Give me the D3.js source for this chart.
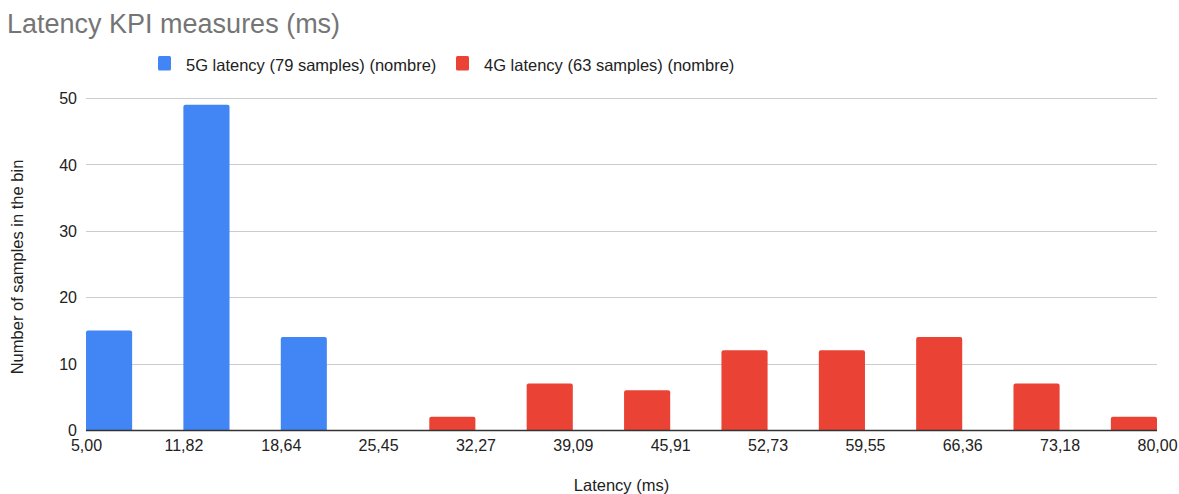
<!DOCTYPE html>
<html>
<head>
<meta charset="utf-8">
<script src="https://cdn.jsdelivr.net/npm/d3@7/dist/d3.min.js"></script>
<style>
  html, body { margin: 0; padding: 0; background: #fff; }
  svg { display: block; font-family: "Liberation Sans", Arial, sans-serif; }
</style>
</head>
<body>
<svg id="chart" width="1179" height="494"></svg>
<script>
// Bin edges of the latency histogram (ms) and their axis labels
const binEdges = [5.00, 11.82, 18.64, 25.45, 32.27, 39.09, 45.91, 52.73, 59.55, 66.36, 73.18, 80.00];
const binLabels = ["5,00", "11,82", "18,64", "25,45", "32,27", "39,09", "45,91", "52,73", "59,55", "66,36", "73,18", "80,00"];

// Sample counts per bin
const series = ["5G latency (79 samples) (nombre)", "4G latency (63 samples) (nombre)"];
const counts5G = [15, 49, 14, 0, 0, 0, 0, 0, 0, 0, 0];
const counts4G = [0, 0, 0, 2, 7, 6, 12, 12, 14, 7, 2];
const colors = ["#4285f4", "#ea4335"];
const yTicks = [0, 10, 20, 30, 40, 50];

const FONT = "'Liberation Sans', Arial, sans-serif";
const svg = d3.select("#chart");
const margin = { left: 86, right: 22, top: 98, bottom: 64 };
const W = 1179, H = 494;

const x = d3.scaleLinear()
  .domain([binEdges[0], binEdges[binEdges.length - 1]])
  .range([margin.left, W - margin.right]);
const y = d3.scaleLinear().domain([0, 50]).range([H - margin.bottom, margin.top]);

// Title
svg.append("text")
  .attr("x", 7).attr("y", 33)
  .attr("font-size", 27).attr("fill", "#757575")
  .text("Latency KPI measures (ms)");

// Legend
const legendX = [158, 456];
series.forEach((name, i) => {
  const g = svg.append("g").attr("transform", `translate(${legendX[i]},56)`);
  g.append("rect").attr("width", 13).attr("height", 14.5).attr("rx", 1.5).attr("fill", colors[i]);
  g.append("text").attr("x", 28).attr("y", 14.5).attr("font-size", 16.5).attr("fill", "#222").text(name);
});

// Gridlines
svg.append("g")
  .selectAll("line")
  .data(yTicks.filter(d => d > 0))
  .join("line")
  .attr("x1", x.range()[0]).attr("x2", x.range()[1])
  .attr("y1", d => Math.round(y(d)) + 0.5).attr("y2", d => Math.round(y(d)) + 0.5)
  .attr("stroke", "#cccccc").attr("stroke-width", 1);

// Y axis labels
const yAxis = d3.axisLeft(y).tickValues(yTicks).tickSize(0).tickPadding(0).tickFormat(d3.format("d"));
svg.append("g")
  .attr("transform", `translate(77,0)`)
  .call(yAxis)
  .call(g => g.select(".domain").remove())
  .call(g => g.selectAll("text").attr("font-size", 16).attr("fill", "#222").attr("font-family", FONT).attr("dy", "0.36em"));

// Bars: each bin holds the two series side by side
const inner = d3.scaleBand().domain([0, 1]).paddingInner(0.1).paddingOuter(0);
const bars = [];
for (let b = 0; b < binEdges.length - 1; b++) {
  [counts5G[b], counts4G[b]].forEach((v, s) => {
    if (v > 0) bars.push({ bin: b, s, v });
  });
}
function roundTop(x0, y0, w, h, r) {
  r = Math.min(r, h, w / 2);
  return `M${x0},${y0 + h}V${y0 + r}Q${x0},${y0} ${x0 + r},${y0}H${x0 + w - r}Q${x0 + w},${y0} ${x0 + w},${y0 + r}V${y0 + h}Z`;
}
svg.append("g")
  .selectAll("path")
  .data(bars)
  .join("path")
  .attr("fill", d => colors[d.s])
  .attr("d", d => {
    const a = x(binEdges[d.bin]), b = x(binEdges[d.bin + 1]);
    inner.range([a, b]);
    const bx = inner(d.s), bw = inner.bandwidth();
    return roundTop(bx, y(d.v), bw, y(0) - y(d.v), 2);
  });

// Baseline
svg.append("line")
  .attr("x1", x.range()[0]).attr("x2", x.range()[1])
  .attr("y1", y(0) + 0.5).attr("y2", y(0) + 0.5)
  .attr("stroke", "#333").attr("stroke-width", 1.3);

// X axis labels at the bin edges
const xAxis = d3.axisBottom(x).tickValues(binEdges).tickSize(0).tickPadding(0)
  .tickFormat((d, i) => binLabels[i]);
svg.append("g")
  .attr("transform", `translate(0,451)`)
  .call(xAxis)
  .call(g => g.select(".domain").remove())
  .call(g => g.selectAll("text").attr("font-size", 16).attr("fill", "#222").attr("font-family", FONT).attr("y", 0).attr("dy", 0));

// Axis titles
svg.append("text")
  .attr("x", (x.range()[0] + x.range()[1]) / 2).attr("y", 490.5)
  .attr("text-anchor", "middle").attr("font-size", 16.5).attr("fill", "#222")
  .text("Latency (ms)");
svg.append("text")
  .attr("transform", `translate(23,${(y(0) + y(50)) / 2 + 3}) rotate(-90)`)
  .attr("text-anchor", "middle").attr("font-size", 16.5).attr("fill", "#222")
  .text("Number of samples in the bin");
</script>
</body>
</html>
